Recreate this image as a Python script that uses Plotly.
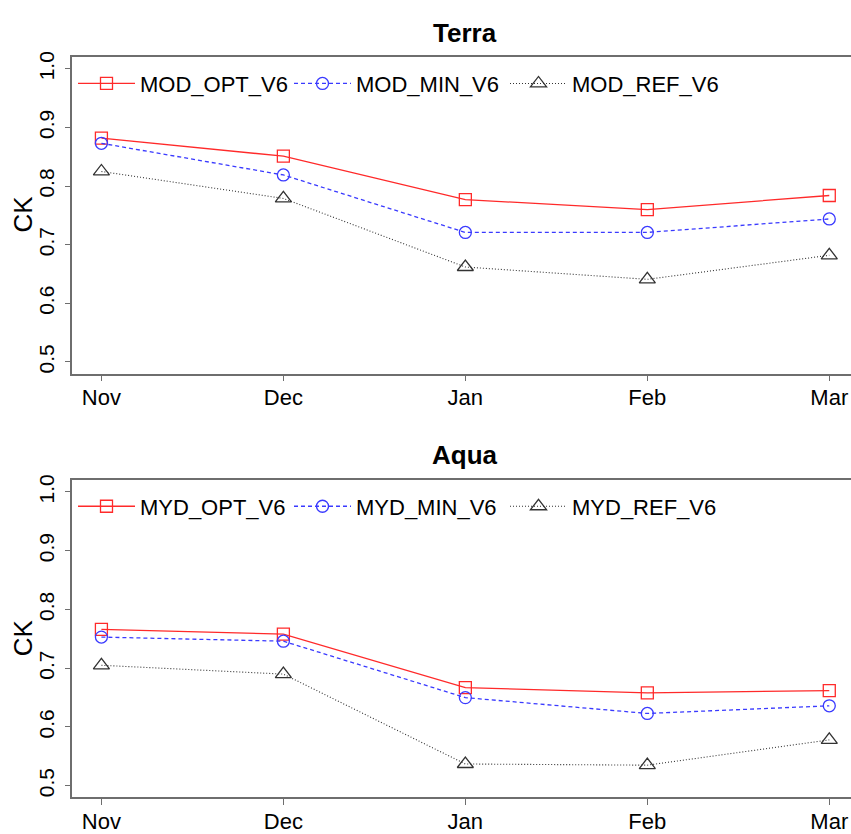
import plotly.graph_objects as go

months = ["Nov", "Dec", "Jan", "Feb", "Mar"]
xpos = [1, 2, 3, 4, 5]
yticks = [0.5, 0.6, 0.7, 0.8, 0.9, 1.0]
yticklabels = ["0.5", "0.6", "0.7", "0.8", "0.9", "1.0"]

terra_opt = [0.882, 0.851, 0.777, 0.760, 0.784]
terra_min = [0.873, 0.819, 0.721, 0.721, 0.744]
terra_ref = [0.825, 0.779, 0.662, 0.641, 0.682]

aqua_opt = [0.766, 0.758, 0.667, 0.658, 0.662]
aqua_min = [0.753, 0.746, 0.650, 0.623, 0.636]
aqua_ref = [0.705, 0.690, 0.537, 0.535, 0.578]

terra_names = ["MOD_OPT_V6", "MOD_MIN_V6", "MOD_REF_V6"]
aqua_names = ["MYD_OPT_V6", "MYD_MIN_V6", "MYD_REF_V6"]

W, H = 851, 834
FONT = "Liberation Sans, Arial, sans-serif"
AX = "#6e6e6e"

styles = [
    dict(color="#ff2a2a", dash="solid", symbol="square-open", size=12, width=1.3),
    dict(color="#3a3aff", dash="4px,3px", symbol="circle-open", size=12, width=1.3),
    dict(color="#333333", dash="1px,2px", symbol="triangle-up-open", size=14, width=1.1),
]

fig = go.Figure()

panels = [
    (terra_names, [terra_opt, terra_min, terra_ref], "x", "y", "legend"),
    (aqua_names, [aqua_opt, aqua_min, aqua_ref], "x2", "y2", "legend2"),
]
for names, series, xa, ya, lg in panels:
    for name, vals, st in zip(names, series, styles):
        fig.add_trace(go.Scatter(
            x=xpos, y=vals, name=name, xaxis=xa, yaxis=ya, legend=lg,
            mode="lines+markers",
            line=dict(color=st["color"], dash=st["dash"], width=st["width"]),
            marker=dict(symbol=st["symbol"], size=st["size"],
                        color=st["color"], line=dict(color=st["color"], width=1.3)),
        ))

def px_x(p):
    return p / W

def px_y(p):
    return 1 - p / H

xleft = 72.3 / W
xr = [0.84, 5.16 - (858.4 - 851) / 182.0]

def xaxis_cfg(anchor):
    return dict(
        domain=[xleft, 1.0], range=xr, anchor=anchor,
        tickvals=xpos, ticktext=months, showgrid=False, zeroline=False,
        showline=True, linecolor=AX, linewidth=1.5, mirror=True,
        ticks="outside", ticklen=6, tickcolor=AX, tickwidth=1.2,
        ticklabelstandoff=-3,
        tickfont=dict(size=22, color="black", family=FONT),
    )

def yaxis_cfg(anchor, top, bottom):
    return dict(
        domain=[px_y(bottom), px_y(top)], range=[0.48, 1.02], anchor=anchor,
        tickvals=yticks, ticktext=yticklabels, tickangle=-90,
        showgrid=False, zeroline=False,
        showline=True, linecolor=AX, linewidth=1.5,
        ticks="outside", ticklen=6, tickcolor=AX, tickwidth=1.2,
        ticklabelstandoff=2,
        tickfont=dict(size=21, color="black", family=FONT),
    )

legend_common = dict(
    orientation="h", xanchor="left", yanchor="middle",
    font=dict(size=22, color="black", family=FONT),
    bgcolor="rgba(0,0,0,0)", borderwidth=0,
    entrywidth=144, entrywidthmode="pixels", itemwidth=57,
)

def ann(text, x, y, size, angle=0):
    return dict(text=text, x=px_x(x), y=px_y(y), xref="paper", yref="paper",
                xanchor="center", yanchor="middle", showarrow=False,
                textangle=angle, font=dict(size=size, family=FONT, color="black"))

fig.update_layout(
    width=W, height=H, margin=dict(l=0, r=0, t=0, b=0),
    paper_bgcolor="white", plot_bgcolor="white",
    font=dict(family=FONT, color="black"),
    xaxis=xaxis_cfg("y"),
    yaxis=yaxis_cfg("x", 52, 374),
    xaxis2=xaxis_cfg("y2"),
    yaxis2=yaxis_cfg("x2", 482.3, 805),
    legend=dict(x=px_x(73), y=px_y(79), **legend_common),
    legend2=dict(x=px_x(73), y=px_y(509), **legend_common),
    annotations=[
        ann("<b>Terra</b>", 465, 27, 26),
        ann("<b>Aqua</b>", 465, 457, 26),
        ann("CK", 23, 212, 26, -90),
        ann("CK", 23, 643, 26, -90),
    ],
)

fig.write_html("out.html", config={"displayModeBar": False},
               post_script="document.body.style.margin='0';")
